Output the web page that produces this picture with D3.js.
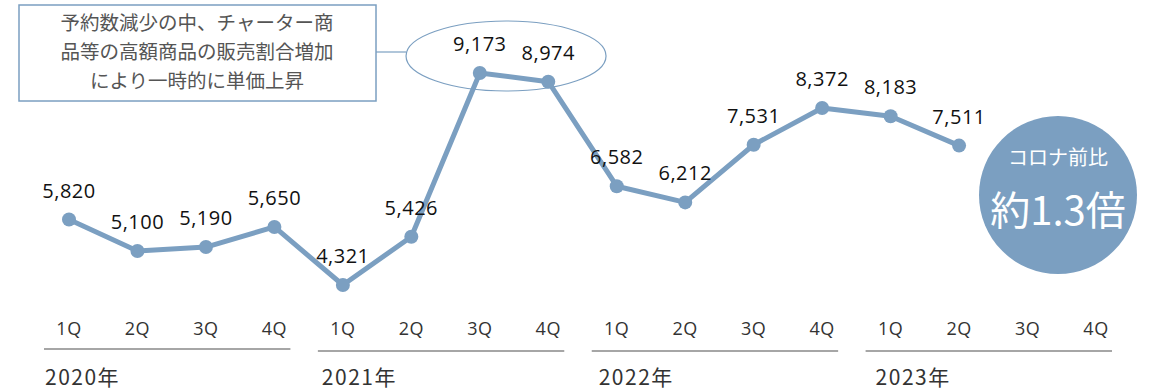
<!DOCTYPE html>
<html lang="ja">
  <head>
    <meta charset="utf-8" />
    <script src="https://d3js.org/d3.v7.min.js"></script>
    <style>
      body {
        margin: 0;
        background-color: #fff;
      }
      svg {
        display: block;
        font-family: "Noto Sans CJK JP", "Noto Sans", sans-serif;
      }
      .num {
        font-family: "Open Sans", "Noto Sans", sans-serif;
      }
    </style>
  </head>
  <body>
    <div id="chart"></div>

    <script>
      const width = 1158;
      const height = 390;

      const years = ["2020年", "2021年", "2022年", "2023年"];
      const quarters = ["1Q", "2Q", "3Q", "4Q"];
      // 単価（2023年3Q・4Qは未発表）
      const values = [
        5820, 5100, 5190, 5650,
        4321, 5426, 9173, 8974,
        6582, 6212, 7531, 8372,
        8183, 7511
      ];
      const note = [
        "予約数減少の中、チャーター商",
        "品等の高額商品の販売割合増加",
        "により一時的に単価上昇"
      ];
      const badge = ["コロナ前比", "約1.3倍"];

      const mainColor = "#7b9fc1";

      const slots = [];
      years.forEach((y, yi) =>
        quarters.forEach((q) => slots.push({ year: y, yi: yi, q: q }))
      );
      const data = values.map((v, i) => ({ i: i, value: v }));

      const svg = d3
        .select("#chart")
        .append("svg")
        .attr("width", width)
        .attr("height", height);

      const x = d3
        .scalePoint()
        .domain(d3.range(slots.length))
        .range([69, 1096]);

      const y = d3
        .scaleLinear()
        .domain(d3.extent(values))
        .range([285, 73]);

      // 注釈の楕円と吹き出し
      svg
        .append("ellipse")
        .attr("cx", (x(6) + x(7)) / 2 - 8)
        .attr("cy", 56)
        .attr("rx", 100)
        .attr("ry", 35)
        .attr("fill", "none")
        .attr("stroke", mainColor)
        .attr("stroke-width", 1.2);

      svg
        .append("line")
        .attr("x1", 376)
        .attr("x2", (x(6) + x(7)) / 2 - 108)
        .attr("y1", 52)
        .attr("y2", 52)
        .attr("stroke", mainColor)
        .attr("stroke-width", 1.2);

      svg
        .append("rect")
        .attr("x", 19)
        .attr("y", 5)
        .attr("width", 357)
        .attr("height", 96)
        .attr("fill", "#fff")
        .attr("stroke", mainColor)
        .attr("stroke-width", 1.5);

      svg
        .append("g")
        .selectAll("text")
        .data(note)
        .join("text")
        .attr("x", 197)
        .attr("y", (d, i) => 30 + i * 29)
        .attr("text-anchor", "middle")
        .attr("font-size", 19.5)
        .attr("fill", "#555")
        .text((d) => d);

      // 折れ線
      const line = d3
        .line()
        .x((d) => x(d.i))
        .y((d) => y(d.value));

      svg
        .append("path")
        .datum(data)
        .attr("d", line)
        .attr("fill", "none")
        .attr("stroke", mainColor)
        .attr("stroke-width", 5)
        .attr("stroke-linejoin", "round");

      svg
        .append("g")
        .selectAll("circle")
        .data(data)
        .join("circle")
        .attr("cx", (d) => x(d.i))
        .attr("cy", (d) => y(d.value))
        .attr("r", 7)
        .attr("fill", mainColor);

      svg
        .append("g")
        .selectAll("text")
        .data(data)
        .join("text")
        .attr("class", "num")
        .attr("x", (d) => x(d.i))
        .attr("y", (d) => y(d.value) - 22)
        .attr("text-anchor", "middle")
        .attr("font-size", 20)
        .attr("letter-spacing", 0.5)
        .attr("fill", "#111")
        .text((d) => d3.format(",")(d.value));

      // 四半期ラベル
      svg
        .append("g")
        .selectAll("text")
        .data(slots)
        .join("text")
        .attr("class", "num")
        .attr("x", (d, i) => x(i))
        .attr("y", 335)
        .attr("text-anchor", "middle")
        .attr("font-size", 18)
        .attr("letter-spacing", 0.5)
        .attr("fill", "#333")
        .text((d) => d.q);

      // 年の区切り線とラベル
      const yearG = svg
        .append("g")
        .selectAll("g")
        .data(years)
        .join("g");

      yearG
        .append("line")
        .attr("x1", (d, i) => x(i * 4) - 25)
        .attr("x2", (d, i) => x(i * 4 + 3) + 16)
        .attr("y1", (d, i) => (i === 0 ? 349 : 351))
        .attr("y2", (d, i) => (i === 0 ? 349 : 351))
        .attr("stroke", "#888")
        .attr("stroke-width", 1.3);

      yearG
        .append("text")
        .attr("x", (d, i) => x(i * 4) - 24 + i * 3)
        .attr("y", 385)
        .attr("font-size", 21)
        .attr("letter-spacing", 1.5)
        .attr("fill", "#333")
        .text((d) => d);

      // コロナ前比バッジ
      svg
        .append("circle")
        .attr("cx", 1058)
        .attr("cy", 195)
        .attr("r", 79)
        .attr("fill", mainColor);

      svg
        .append("text")
        .attr("x", 1058)
        .attr("y", 165)
        .attr("text-anchor", "middle")
        .attr("font-size", 20)
        .attr("fill", "#fff")
        .text(badge[0]);

      svg
        .append("text")
        .attr("x", 1058)
        .attr("y", 225)
        .attr("text-anchor", "middle")
        .attr("font-size", 40)
        .attr("fill", "#fff")
        .text(badge[1]);
    </script>
  </body>
</html>
